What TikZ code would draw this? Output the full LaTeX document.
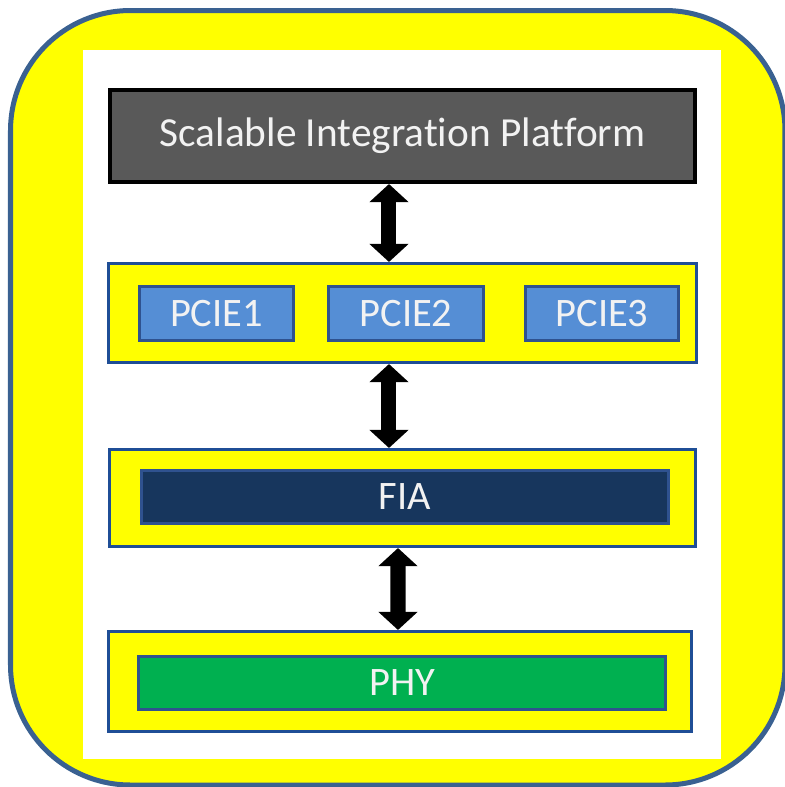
\documentclass[tikz,border=0pt]{standalone}
\usepackage{fontspec}
\setmainfont[Ligatures=NoCommon]{Carlito}
\usetikzlibrary{arrows.meta}
\definecolor{framebl}{HTML}{3A6191}
\definecolor{bandbl}{HTML}{1F4E96}
\definecolor{boxbl}{HTML}{2F528F}
\definecolor{pciefill}{HTML}{558ED5}
\definecolor{fiafill}{HTML}{17365D}
\definecolor{phyfill}{HTML}{00B050}
\definecolor{topfill}{HTML}{595959}
\definecolor{txt}{HTML}{F2F2F2}
\definecolor{yel}{HTML}{FFFF00}
\tikzset{
  band/.style={draw=bandbl, line width=0.03cm, fill=yel, inner sep=0pt},
  blockbox/.style={draw=boxbl, line width=0.03cm, inner sep=0pt, text=txt,
    font=\fontsize{11.5pt}{13pt}\selectfont},
  link/.style={line width=0.15cm, draw=black,
    {Triangle[width=0.38cm,length=0.18cm]}-{Triangle[width=0.38cm,length=0.18cm]}}
}
\begin{document}
\begin{tikzpicture}[x=0.01cm, y=-0.01cm]
\useasboundingbox (0,0) rectangle (785,787);
% outer rounded frame and white panel
\draw[framebl, line width=0.05cm, fill=yel, rounded corners=1.2cm]
  (10.5,10.5) rectangle (785,785);
\fill[white] (83,50) rectangle (721,759);

% top block
\node[blockbox, draw=black, line width=0.04cm, fill=topfill,
  minimum width=5.85cm, minimum height=0.92cm,
  font=\fontsize{11.75pt}{14pt}\selectfont] (sip) at (402.5,136)
  {Scalable Integration Platform};

% PCIE band
\node[band, minimum width=5.88cm, minimum height=0.99cm] (pcie) at (402.5,313) {};
\node[blockbox, fill=pciefill, minimum width=1.54cm, minimum height=0.54cm]
  (p1) at (216.5,313.5) {PCIE1};
\node[blockbox, fill=pciefill, minimum width=1.55cm, minimum height=0.54cm]
  (p2) at (406,313.5) {PCIE2};
\node[blockbox, fill=pciefill, minimum width=1.53cm, minimum height=0.54cm]
  (p3) at (602,313.5) {PCIE3};

% FIA band
\node[band, minimum width=5.86cm, minimum height=0.97cm] (fiaband) at (402.5,498) {};
\node[blockbox, fill=fiafill, minimum width=5.27cm, minimum height=0.53cm]
  (fia) at (405,497) {FIA};

% PHY band
\node[band, minimum width=5.83cm, minimum height=1.0cm] (phyband) at (400,681.5) {};
\node[blockbox, fill=phyfill, minimum width=5.27cm, minimum height=0.53cm]
  (phy) at (402,683) {PHY};

% links between layers
\draw[link] ([xshift=-0.135cm]sip.south) -- ([xshift=-0.135cm]pcie.north);
\draw[link] ([xshift=-0.135cm]pcie.south) -- ([xshift=-0.135cm]fiaband.north);
\draw[link] ([xshift=-0.045cm]fiaband.south) -- ([xshift=-0.02cm]phyband.north);
\end{tikzpicture}
\end{document}
